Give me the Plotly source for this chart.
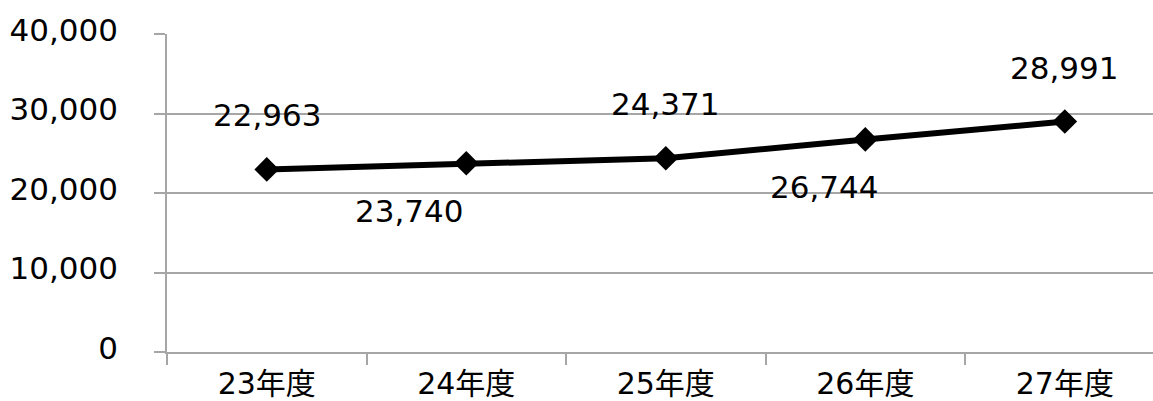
import plotly.graph_objects as go

categories = ["23年度", "24年度", "25年度", "26年度", "27年度"]
values = [22963, 23740, 24371, 26744, 28991]
label_side = [1, -1, 1, -1, 1]  # 1 = above, -1 = below
label_dx = [0, -57, -1, -41, -1]
y_ticks = [0, 10000, 20000, 30000, 40000]

FONT = "DejaVu Sans, Noto Sans CJK JP, sans-serif"
GRID = "#a6a6a6"

fig = go.Figure()
fig.add_trace(go.Scatter(
    x=categories, y=values, mode="lines+markers",
    line=dict(color="black", width=6),
    marker=dict(symbol="diamond", size=19, color="black"),
    hoverinfo="skip", showlegend=False,
))

for c, v, s, dx in zip(categories, values, label_side, label_dx):
    fig.add_annotation(x=c, y=v, text=f"{v:,}", showarrow=False,
                       yshift=54 if s > 0 else -48, xshift=dx,
                       font=dict(family=FONT, size=31, color="black"))

fig.update_layout(
    width=1153, height=401,
    margin=dict(l=167, r=0, t=34, b=47),
    plot_bgcolor="white", paper_bgcolor="white",
    font=dict(family=FONT, size=31, color="black"),
)
fig.update_xaxes(
    type="category", range=[-0.5, 4.442],
    showline=True, linecolor=GRID, linewidth=1.5,
    ticks="outside", tickson="boundaries", ticklen=11, tickcolor=GRID, tickwidth=1.5,
    showgrid=False, tickfont=dict(family=FONT, size=30),
    ticklabelstandoff=4,
)
fig.update_yaxes(
    range=[0, 40000], tickvals=y_ticks, ticktext=[f"{t:,}" for t in y_ticks],
    showline=True, linecolor=GRID, linewidth=1.5,
    ticks="outside", ticklen=11, tickcolor=GRID, tickwidth=1.5,
    showgrid=True, gridcolor=GRID, gridwidth=1.5, zeroline=False,
    ticklabelstandoff=30, ticklabelshift=-4,
)

fig.write_html("out.html")
